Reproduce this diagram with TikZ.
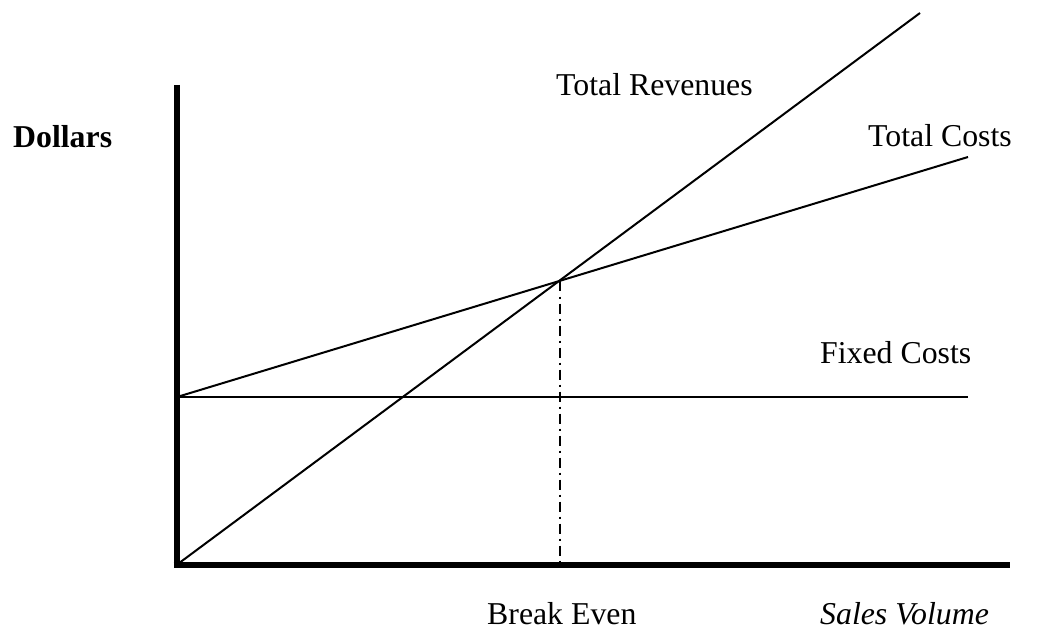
\documentclass[tikz,border=0pt]{standalone}
\usepackage{fontspec}
\setmainfont{Liberation Serif}
\begin{document}
\begin{tikzpicture}[x=1pt,y=-1pt,
  lbl/.style={anchor=base west,inner sep=0pt,font=\fontsize{31.8}{36}\selectfont},
  axis/.style={line width=6pt},
  curve/.style={line width=2pt},
  guide/.style={line width=2pt,dash pattern=on 10pt off 5pt on 2pt off 5pt}]
\useasboundingbox (0,0) rectangle (1050,631);
\coordinate (ytop) at (176.5,85);
\coordinate (o) at (176.5,565);
\coordinate (xend) at (1010,565);
\coordinate (fc0) at (177,397);
\coordinate (fc1) at (968,397);
\coordinate (tc1) at (968,157);
\coordinate (tr1) at (920,13);
\coordinate (be) at (560,281.5);
\coordinate (beb) at (560,565);
\draw[axis] (ytop) -- (176.5,568);
\draw[axis] (173.5,565) -- (xend);
\draw[curve] (fc0) -- (fc1);
\draw[curve] (fc0) -- (tc1);
\draw[curve] (o) -- (tr1);
\draw[guide] (be) -- (beb);
\node[lbl,font=\fontsize{31.8}{36}\selectfont\bfseries] (dollars) at (13,148) {Dollars};
\node[lbl] (trl) at (556,96) {Total Revenues};
\node[lbl] (tcl) at (868,147) {Total Costs};
\node[lbl] (fcl) at (820,363) {Fixed Costs};
\node[lbl] (bel) at (487,624) {Break Even};
\node[lbl,font=\fontsize{31.8}{36}\selectfont\itshape] (svl) at (820,624) {Sales Volume};
\end{tikzpicture}
\end{document}
